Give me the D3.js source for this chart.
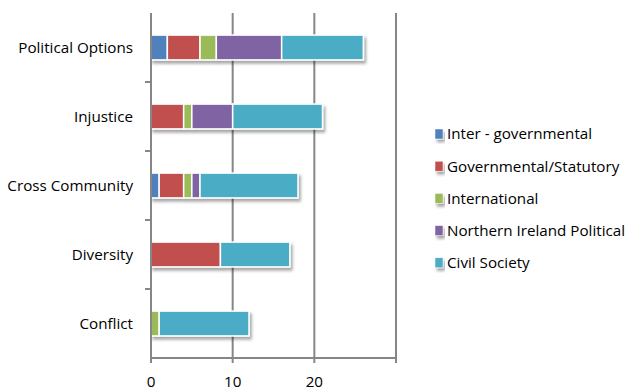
<!DOCTYPE html>
<html>
<head>
<meta charset="utf-8">
<script src="https://cdn.jsdelivr.net/npm/d3@7"></script>
<style>
  html, body { margin: 0; padding: 0; background: #fff; }
  text { font-family: "Open Sans", Lato, sans-serif; fill: #000; }
</style>
</head>
<body>
<svg id="chart" width="631" height="392"></svg>
<script>
// Categories, top to bottom
const categories = ["Political Options", "Injustice", "Cross Community", "Diversity", "Conflict"];
const seriesNames = ["Inter - governmental", "Governmental/Statutory", "International", "Northern Ireland Political", "Civil Society"];
const seriesColors = ["#4F81BD", "#C0504D", "#9BBB59", "#8064A2", "#4BACC6"];

// Counts per series, in category order
const interGovernmental = [2, 0, 1, 0, 0];
const governmental = [4, 4, 3, 8.5, 0];
const international = [2, 1, 1, 0, 1];
const niPolitical = [8, 5, 1, 0, 0];
const civilSociety = [10, 11, 12, 8.5, 11];

const xTicks = [0, 10, 20, 30];

const seriesValues = [interGovernmental, governmental, international, niPolitical, civilSociety];
const rows = categories.map((c, i) => {
  const r = { category: c };
  seriesNames.forEach((s, j) => { r[s] = seriesValues[j][i]; });
  return r;
});
const stacked = d3.stack().keys(seriesNames)(rows);

const fontSize = 15.2;
const svg = d3.select("#chart");
const margin = { left: 151, top: 13 };
const x = d3.scaleLinear().domain([0, 30]).range([margin.left, 396]);
const y = d3.scaleBand().domain(categories).range([margin.top, 358]).paddingInner(0.64).paddingOuter(0.32);
const band = d3.scaleBand().domain(categories).range([margin.top, 358]);

const defs = svg.append("defs");
const f = defs.append("filter").attr("id", "shadow").attr("x", "-10%").attr("y", "-30%").attr("width", "130%").attr("height", "180%");
f.append("feDropShadow").attr("dx", 2).attr("dy", 3).attr("stdDeviation", 1.6)
  .attr("flood-color", "#000").attr("flood-opacity", 0.35);

// Vertical gridlines
svg.append("g").selectAll("line").data(xTicks.slice(1)).join("line")
  .attr("x1", d => x(d)).attr("x2", d => x(d))
  .attr("y1", margin.top).attr("y2", 358)
  .attr("stroke", "#868686").attr("stroke-width", 2);

// Bars: one group per category so the shadow wraps the whole bar
const barGroups = svg.append("g").selectAll("g.row").data(categories).join("g")
  .attr("class", "row").attr("filter", "url(#shadow)");
barGroups.each(function(cat, i) {
  const g = d3.select(this);
  stacked.forEach((layer, j) => {
    const d = layer[i];
    if (d[1] - d[0] <= 0) return;
    g.append("rect")
      .attr("x", x(d[0]))
      .attr("y", y(cat))
      .attr("width", x(d[1]) - x(d[0]))
      .attr("height", y.bandwidth())
      .attr("fill", seriesColors[j])
      .attr("stroke", "#fff")
      .attr("stroke-width", 1.5);
  });
});

// Y axis line and ticks
svg.append("line").attr("x1", x(0)).attr("x2", x(0)).attr("y1", margin.top).attr("y2", 358)
  .attr("stroke", "#868686").attr("stroke-width", 2);
svg.append("g").selectAll("line").data(categories.slice(1)).join("line")
  .attr("x1", x(0) - 6).attr("x2", x(0))
  .attr("y1", d => band(d)).attr("y2", d => band(d))
  .attr("stroke", "#868686").attr("stroke-width", 2);
svg.append("g").selectAll("text").data(categories).join("text")
  .attr("x", 133).attr("y", d => band(d) + band.bandwidth() / 2)
  .attr("text-anchor", "end").attr("dy", "0.35em")
  .attr("font-size", fontSize).text(d => d);

// X axis
svg.append("line").attr("x1", x(0) - 1).attr("x2", x(30) + 1).attr("y1", 358).attr("y2", 358)
  .attr("stroke", "#868686").attr("stroke-width", 2);
svg.append("g").selectAll("line").data(xTicks).join("line")
  .attr("x1", d => x(d)).attr("x2", d => x(d)).attr("y1", 358).attr("y2", 363)
  .attr("stroke", "#868686").attr("stroke-width", 2);
svg.append("g").selectAll("text").data(xTicks.slice(0, 3)).join("text")
  .attr("x", d => x(d)).attr("y", 382).attr("dy", "0.35em")
  .attr("text-anchor", "middle").attr("font-size", fontSize).text(d => d);

// Legend
const legend = svg.append("g").selectAll("g").data(seriesNames).join("g")
  .attr("transform", (d, i) => `translate(435, ${134 + i * 32.2})`);
legend.append("rect").attr("x", 0).attr("y", -5).attr("width", 8).attr("height", 10)
  .attr("fill", (d, i) => seriesColors[i]).attr("stroke", "#fff").attr("stroke-width", 0.5)
  .attr("filter", "url(#shadow)");
legend.append("text").attr("x", 12).attr("y", 0).attr("dy", "0.35em")
  .attr("font-size", fontSize).text(d => d);
</script>
</body>
</html>
